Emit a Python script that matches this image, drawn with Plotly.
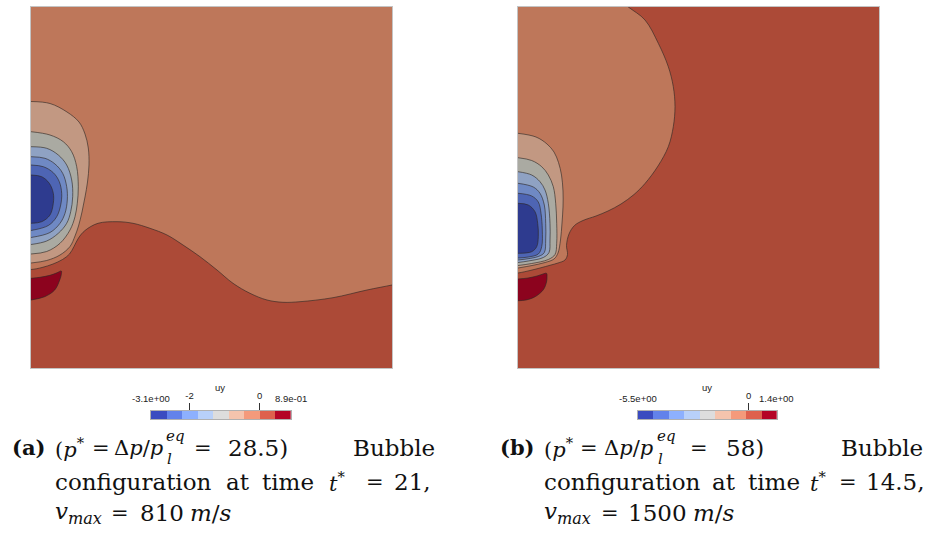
import numpy as np
import plotly.graph_objects as go

W, H = 931, 533

# ---------------------------------------------------------------------------
# uy field, panel (a): iso-contour boundaries in panel units
# (0..361 across, y measured downward from the top edge)
# ---------------------------------------------------------------------------
A_WAVE_X = [375, 361, 336, 302, 269, 252, 236, 219, 202, 186, 169, 152, 136, 119,
            102, 86, 67, 54, 47.5, 43, 38.5, 31.5, 22, 11, 0, -20, -20, 375]
A_WAVE_Y = [275, 278, 283, 290.7, 294.7, 295.3, 293, 286.3, 276.3, 263, 249.7, 238,
            228, 221.3, 216.3, 214.7, 216.3, 223.5, 231, 239.5, 247, 252.5, 257,
            260.5, 262.5, 262, 380, 380]

A_C1_X = [0, 19, 36, 48, 54, 57.3, 58, 56.5, 54, 51, 47.5, 44, 39, 29, 15.7, 0]
A_C1_Y = [94.5, 96.5, 105, 115, 127, 141, 158, 175, 190, 205, 219, 229, 239.5, 248, 253.5, 256]
A_C2_X = [0, 19, 32.3, 40.7, 45.7, 47.3, 46.3, 44, 39, 29, 15.7, 0]
A_C2_Y = [124.7, 128, 134.7, 144.7, 159.7, 179.7, 196.3, 209.7, 223, 236.3, 244.5, 247]
A_C3_X = [0, 15.7, 27.3, 35.7, 40.7, 41.7, 39.7, 35.7, 27.3, 15.7, 0]
A_C3_Y = [139.7, 141.3, 148, 158, 173, 189.7, 204.7, 216.3, 226.3, 234, 237.5]
A_C4_X = [0, 14, 24, 31.7, 35.7, 36.3, 34, 29, 19, 0]
A_C4_Y = [149.7, 151.3, 157, 166.3, 179.7, 193, 206.3, 216.3, 225.5, 230.5]
A_C5_X = [0, 12.3, 22.3, 28.3, 30.7, 29.7, 25.7, 17.3, 0]
A_C5_Y = [158, 159.7, 165.7, 174.7, 186.3, 198, 209.7, 218.5, 223.5]
A_C6_X = [0, 10.7, 18.3, 22.3, 22.3, 19, 10.7, 0]
A_C6_Y = [168, 169.7, 176.3, 186.3, 196.3, 208, 214.7, 216.3]
A_JET_X = [0, 9, 19, 26, 30.3, 30.3, 28.7, 23.7, 13.7, 0]
A_JET_Y = [271.3, 270.3, 268.3, 265.8, 264, 267.5, 273, 283, 289.7, 293]

# ---------------------------------------------------------------------------
# uy field, panel (b)
# ---------------------------------------------------------------------------
B_DOME_X = [97.5, 110.3, 127, 140.3, 150.3, 155.3, 157, 155.3, 150.3, 140, 127, 116,
            103, 90, 78, 65, 56.5, 51, 48.5, 49.5, 47, 40, 33, 22, 12, 0, -20, -20]
B_DOME_Y = [-10, 0, 13, 36.3, 59.7, 79.7, 99.7, 119.7, 139.7, 159, 176.5, 187.5,
            197, 204, 209, 213.5, 218.5, 227, 238.5, 247.5, 253, 256, 258, 261,
            263.5, 266, 268, -10]

B_C1_X = [0, 18, 29, 36, 40.5, 43.5, 45, 45, 44, 42.5, 40, 36, 27, 14, 0]
B_C1_Y = [126.3, 130, 137, 145, 155.5, 168, 184, 200, 216, 233, 246, 252, 255.5, 258.5, 261]
B_C2_X = [0, 13.7, 23.7, 30.3, 35.3, 37.7, 38.7, 38.7, 37, 30.3, 13.7, 0]
B_C2_Y = [150.7, 153.5, 159.7, 168, 179.7, 196.3, 216.3, 236.3, 247.5, 252.5, 256.5, 258.5]
B_C3_X = [0, 13.7, 22, 27, 30.3, 32, 32, 31, 25.3, 10.3, 0]
B_C3_Y = [164.7, 168, 174.7, 183, 196.3, 216.3, 233, 245.5, 250.5, 254, 255.5]
B_C4_X = [0, 15.3, 22, 26.3, 27.7, 27.7, 26.3, 20.3, 0]
B_C4_Y = [176.3, 180, 186.3, 198, 216.3, 233, 245.5, 249.5, 253]
B_C5_X = [0, 13.7, 20.3, 23, 24.3, 23.7, 20.3, 10.3, 0]
B_C5_Y = [186.3, 189, 195, 206.3, 223, 239.7, 247, 250, 251]
B_C6_X = [0, 10.3, 17, 19.7, 20.3, 18.7, 13.7, 0]
B_C6_Y = [196.3, 198, 204.7, 216.3, 229.7, 239.7, 244.7, 246.3]
B_JET_X = [0, 10, 19, 25, 28.5, 29, 28.5, 25.5, 17.5, 8, 0]
B_JET_Y = [272, 271, 269, 267, 266.3, 270, 275, 282.5, 289.5, 293, 293.7]

# shaded band colours of the rendered field (lowest to highest uy)
SHADE = ['#2E3B8F', '#4E65B4', '#6F89C4', '#8FA2C3', '#AAAAA2',
         '#C29882', '#BE775A', '#AC4A37', '#8C031E']

# colour legend bins and labels
CBAR_COLORS = ['#3B4CC0', '#6282EA', '#8DB0FE', '#B8D0F9', '#DDDDDD',
               '#F5C4AD', '#F49A7B', '#DE604D', '#B40426']
A_CBAR_RANGE = (-3.1, 0.89)
A_CBAR_TICKS = [-2, 0]
A_CBAR_LABELS = ['-2', '0']
A_CBAR_ENDS = ['-3.1e+00', '8.9e-01']
B_CBAR_RANGE = (-5.5, 1.4)
B_CBAR_TICKS = [0]
B_CBAR_LABELS = ['0']
B_CBAR_ENDS = ['-5.5e+00', '1.4e+00']

# ---------------------------------------------------------------------------
PANEL_A = (31, 7, 392, 368)
PANEL_B = (518, 7, 879, 368)
CBAR_A = (151, 411, 290.7, 419)
CBAR_B = (638, 411, 776.7, 419)
EDGE = 'rgba(45,38,36,0.78)'
SANS = 'Liberation Sans'


def dom_x(box):
    return [box[0] / W, box[2] / W]


def dom_y(box):
    return [1 - box[3] / H, 1 - box[1] / H]


fig = go.Figure()


def region(xs, ys, color, ax):
    fig.add_trace(go.Scatter(
        x=xs, y=ys, mode='lines', fill='toself', fillcolor=color,
        line=dict(color=EDGE, width=0.8, shape='spline', smoothing=1.0),
        hoverinfo='skip', showlegend=False, xaxis='x' + ax, yaxis='y' + ax))


# panel (a): orange background, red lower zone, nested bubble bands, jet
region(A_WAVE_X, A_WAVE_Y, SHADE[7], '')
for (xs, ys), c in zip([(A_C1_X, A_C1_Y), (A_C2_X, A_C2_Y), (A_C3_X, A_C3_Y),
                        (A_C4_X, A_C4_Y), (A_C5_X, A_C5_Y), (A_C6_X, A_C6_Y)],
                       SHADE[5::-1]):
    region(xs, ys, c, '')
region(A_JET_X, A_JET_Y, SHADE[8], '')

# panel (b): red background, orange dome, nested bubble bands, jet
region(B_DOME_X, B_DOME_Y, SHADE[6], '2')
for (xs, ys), c in zip([(B_C1_X, B_C1_Y), (B_C2_X, B_C2_Y), (B_C3_X, B_C3_Y),
                        (B_C4_X, B_C4_Y), (B_C5_X, B_C5_Y), (B_C6_X, B_C6_Y)],
                       SHADE[5::-1]):
    region(xs, ys, c, '2')
region(B_JET_X, B_JET_Y, SHADE[8], '2')

# colour legends
cscale = [[i / 8, c] for i, c in enumerate(CBAR_COLORS)]
for ax, (lo, hi) in (('3', A_CBAR_RANGE), ('4', B_CBAR_RANGE)):
    edges = np.linspace(lo, hi, len(CBAR_COLORS) + 1)
    fig.add_trace(go.Heatmap(
        z=[list(range(len(CBAR_COLORS)))], x=edges, y=[0, 1],
        colorscale=cscale, zmin=0, zmax=8, showscale=False,
        hoverinfo='skip', xaxis='x' + ax, yaxis='y' + ax))

panel_axis = dict(showgrid=False, zeroline=False, showticklabels=False, ticks='',
                  showline=True, mirror=True, linecolor='#c4c4c4', linewidth=1,
                  fixedrange=True, automargin=False)
cbar_x = dict(showgrid=False, zeroline=False, side='top', ticks='outside',
              ticklen=7, tickwidth=1, tickcolor='#333',
              tickfont=dict(family=SANS, size=9.5, color='#222'),
              showline=True, mirror=True, linecolor='#b0b0b0', linewidth=1,
              fixedrange=True, automargin=False)
cbar_y = dict(showgrid=False, zeroline=False, showticklabels=False, ticks='',
              range=[0, 1], showline=True, mirror=True, linecolor='#b0b0b0',
              linewidth=1, fixedrange=True, automargin=False)

fig.update_layout(
    width=W, height=H,
    margin=dict(l=0, r=0, t=0, b=0, pad=0, autoexpand=False),
    paper_bgcolor='white', plot_bgcolor='white',
    xaxis=dict(domain=dom_x(PANEL_A), range=[0, 361], anchor='y', **panel_axis),
    yaxis=dict(domain=dom_y(PANEL_A), range=[361, 0], anchor='x', **panel_axis),
    xaxis2=dict(domain=dom_x(PANEL_B), range=[0, 361], anchor='y2', **panel_axis),
    yaxis2=dict(domain=dom_y(PANEL_B), range=[361, 0], anchor='x2', **panel_axis),
    xaxis3=dict(domain=dom_x(CBAR_A), range=list(A_CBAR_RANGE), anchor='y3',
                tickvals=A_CBAR_TICKS, ticktext=A_CBAR_LABELS, **cbar_x),
    yaxis3=dict(domain=dom_y(CBAR_A), anchor='x3', **cbar_y),
    xaxis4=dict(domain=dom_x(CBAR_B), range=list(B_CBAR_RANGE), anchor='y4',
                tickvals=B_CBAR_TICKS, ticktext=B_CBAR_LABELS, **cbar_x),
    yaxis4=dict(domain=dom_y(CBAR_B), anchor='x4', **cbar_y),
    shapes=[
        dict(type='rect', xref='x domain', yref='y domain', x0=0, x1=1, y0=0, y1=1,
             fillcolor=SHADE[6], line=dict(width=0), layer='below'),
        dict(type='rect', xref='x2 domain', yref='y2 domain', x0=0, x1=1, y0=0, y1=1,
             fillcolor=SHADE[7], line=dict(width=0), layer='below'),
    ],
)

# range labels at the two ends of each colour legend
for ax, (lo, hi), ends in (('x3', A_CBAR_RANGE, A_CBAR_ENDS),
                           ('x4', B_CBAR_RANGE, B_CBAR_ENDS)):
    for v, t in zip((lo, hi), ends):
        fig.add_annotation(x=v, xref=ax, y=1 - 398 / H, yref='paper', text=t,
                           showarrow=False, xanchor='center', yanchor='middle',
                           font=dict(family=SANS, size=9.5, color='#222'))

# ---------------------------------------------------------------------------
# text: legend titles and sub-figure captions
# ---------------------------------------------------------------------------
SERIF = 'DejaVu Serif'


def label(x, y, text, anchor='center', size=23, family=SERIF, color='#111'):
    fig.add_annotation(x=x / W, y=1 - y / H, xref='paper', yref='paper',
                       text=text, showarrow=False, xanchor=anchor, yanchor='middle',
                       font=dict(family=family, size=size, color=color))


label(220, 387, 'uy', size=9.5, family=SANS, color='#222')
label(707, 387, 'uy', size=9.5, family=SANS, color='#222')

L1, L2, L3 = 447.5, 481.7, 513.4
SUP_Y, SUB_Y = 436, 459
MATH = 21
P_STAR = '(<i>p</i><sup>*</sup>'
DP = 'Δ<i>p</i>/<i>p</i>'
VMAX = '<i>v<sub>max</sub></i>'
MS = '<i>m</i>/<i>s</i>'

# (a)
label(10, L1, '<b>(a)</b>', anchor='left', size=21)
label(53, L1, P_STAR, anchor='left', size=MATH)
label(101, L1, '=', size=MATH)
label(138, L1, DP, size=MATH)
label(164, SUP_Y, '<i>eq</i>', anchor='left', size=15)
label(165, SUB_Y, '<i>l</i>', anchor='left', size=15)
label(203, L1, '=', size=MATH)
label(258, L1, '28.5)')
label(437, L1, 'Bubble', anchor='right')
label(53, L2, 'configuration', anchor='left')
label(237.5, L2, 'at')
label(288, L2, 'time')
label(336.5, L2, '<i>t</i><sup>*</sup>', size=MATH)
label(375, L2, '=', size=MATH)
label(433, L2, '21,', anchor='right')
label(53, L3, VMAX, anchor='left')
label(120.5, L3, '=', size=MATH)
label(161.5, L3, '810')
label(211, L3, MS)

# (b)
label(498, L1, '<b>(b)</b>', anchor='left', size=21)
label(542, L1, P_STAR, anchor='left', size=MATH)
label(589, L1, '=', size=MATH)
label(628, L1, DP, size=MATH)
label(655, SUP_Y, '<i>eq</i>', anchor='left', size=15)
label(656, SUB_Y, '<i>l</i>', anchor='left', size=15)
label(699, L1, '=', size=MATH)
label(745, L1, '58)')
label(925, L1, 'Bubble', anchor='right')
label(542, L2, 'configuration', anchor='left')
label(724, L2, 'at')
label(774, L2, 'time')
label(818, L2, '<i>t</i><sup>*</sup>', size=MATH)
label(848, L2, '=', size=MATH)
label(927, L2, '14.5,', anchor='right')
label(542, L3, VMAX, anchor='left')
label(609.5, L3, '=', size=MATH)
label(657.5, L3, '1500')
label(714, L3, MS)

fig.write_html('out.html')
